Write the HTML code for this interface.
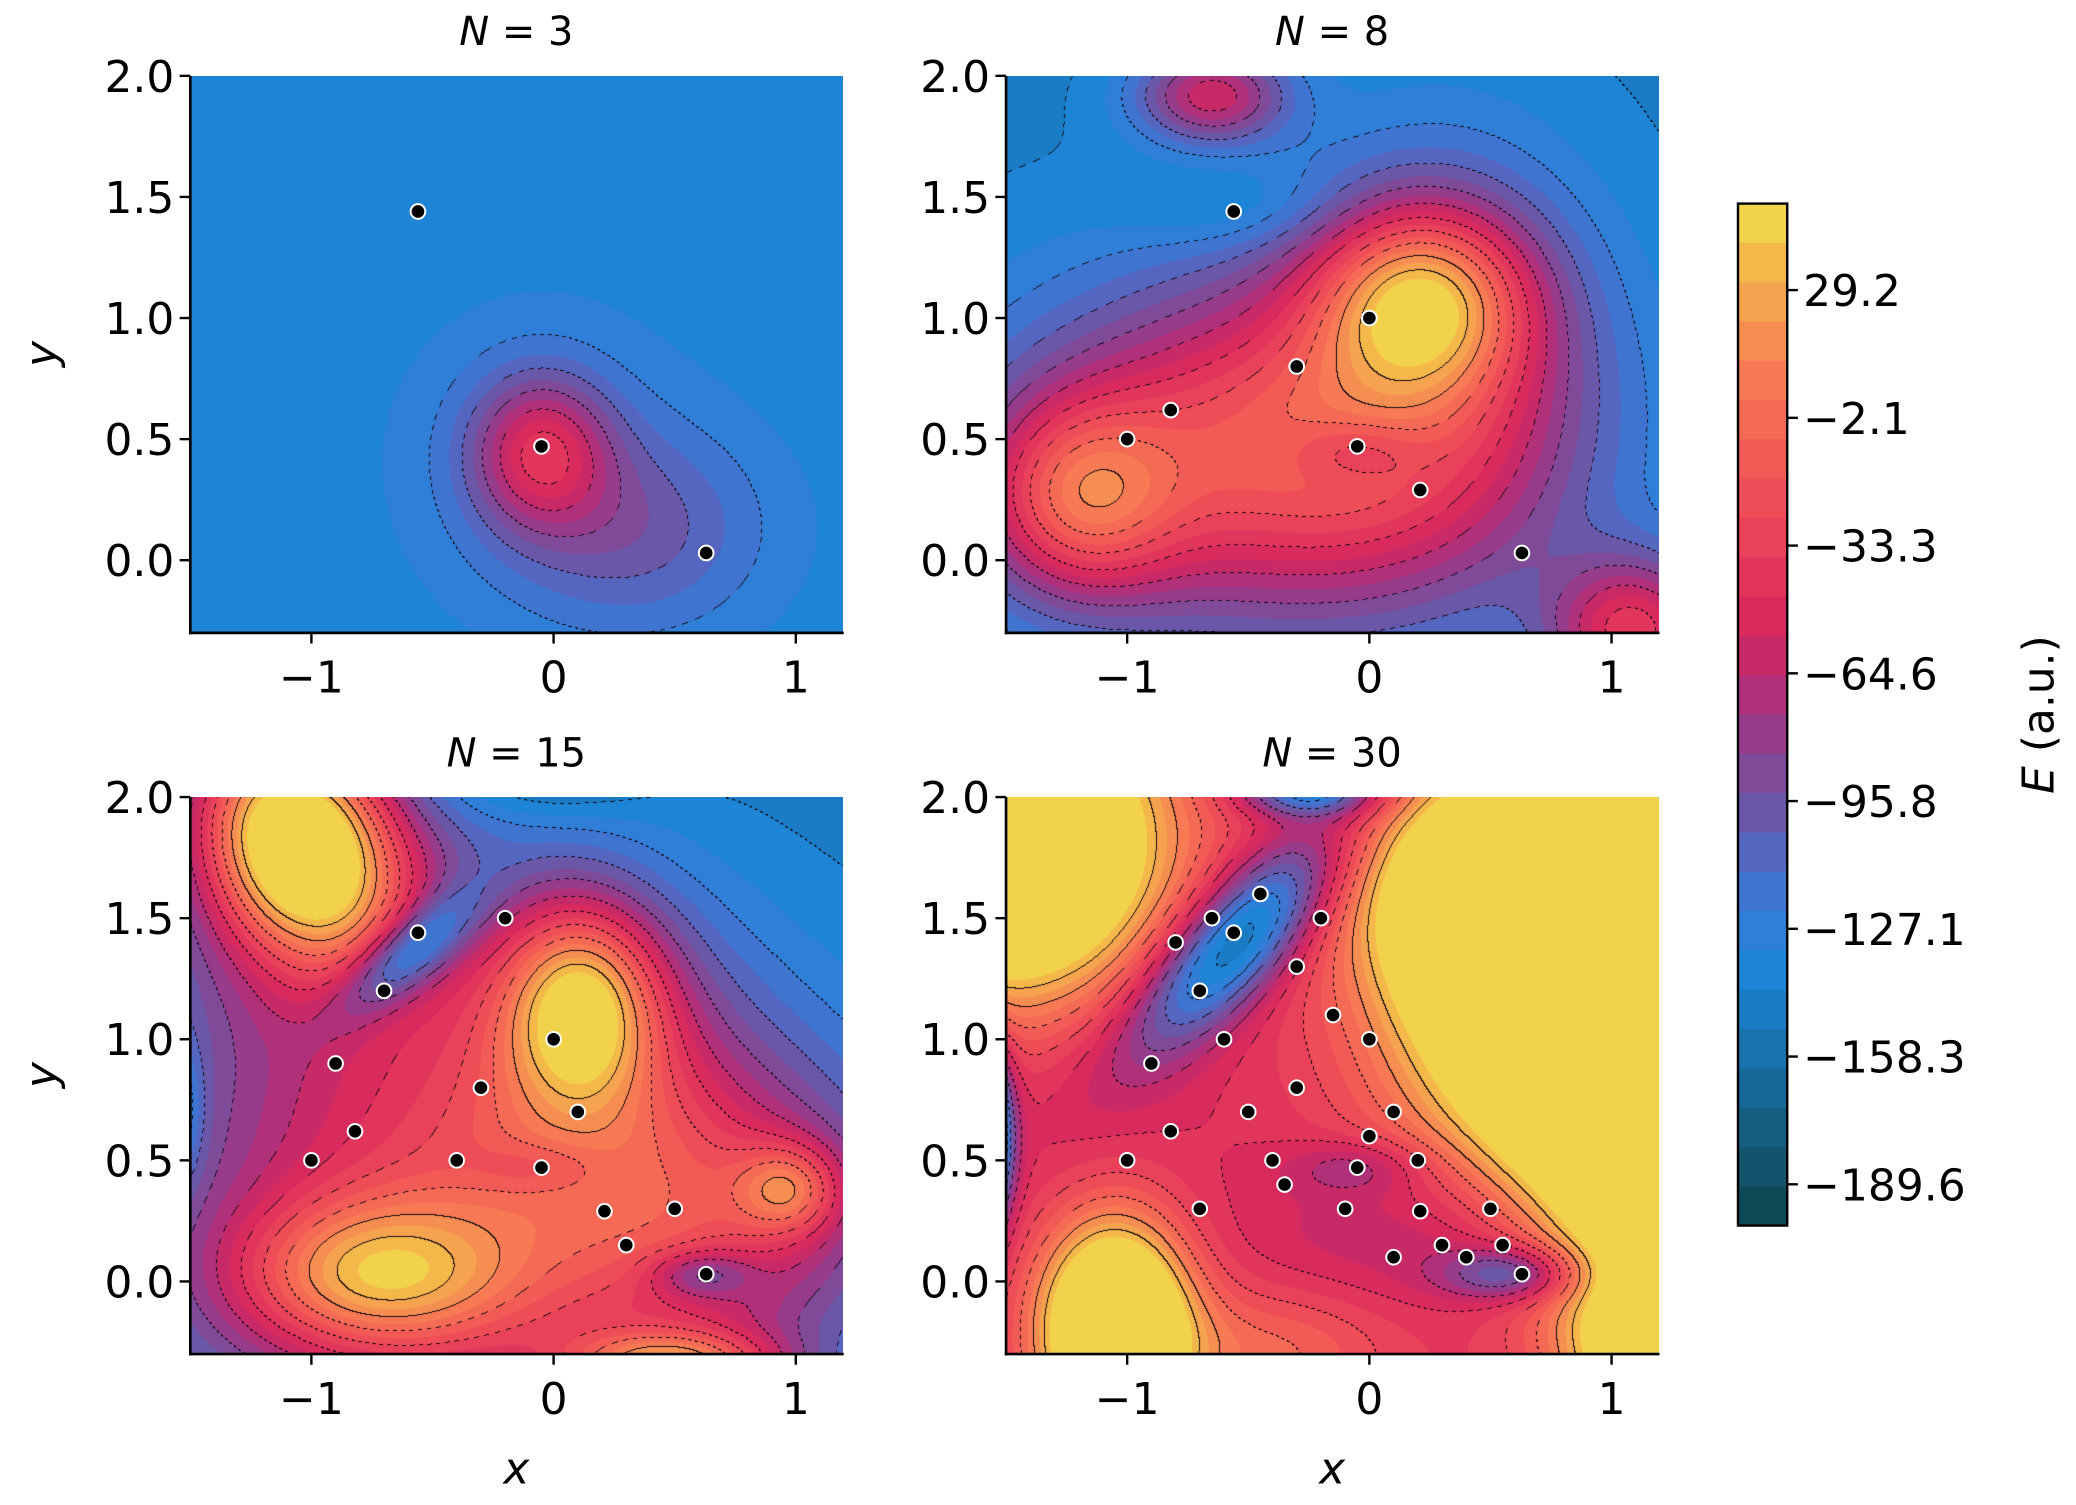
<!DOCTYPE html>
<html><head><meta charset="utf-8"><style>
html,body{margin:0;padding:0;background:#fff;}
#wrap{position:relative;width:2076px;height:1505px;overflow:hidden;background:#fff;}
canvas{position:absolute;}
svg{position:absolute;left:0;top:0;}
</style></head><body>
<div id="wrap">
<canvas id="c0"></canvas><canvas id="c1"></canvas><canvas id="c2"></canvas><canvas id="c3"></canvas>
<svg id="s" width="2076" height="1505" viewBox="0 0 1560 1131" preserveAspectRatio="none" font-family="DejaVu Sans, Liberation Sans, sans-serif"></svg>
</div>
<script>
const S=2076/1560;
const cols=["#0f4a58","#12546c","#145e82","#166898","#1872ac","#1a7cc4","#1e84d6","#2f7fd8","#3f74d0","#5566c0","#6a57a8","#7f4a98","#963c8a","#b0307a","#c82a68","#d92a5e","#e2355c","#e84159","#ee4d57","#f25a56","#f56a55","#f77a55","#f68e52","#f5a34f","#f4b84a","#f2d14b"];
const NB=cols.length, VMIN=-199.7, VMAX=50.4, BW=(VMAX-VMIN)/NB;
function g(x,y,cx,cy,sx,sy,a,r){r=r||0;let dx=x-cx,dy=y-cy;if(r){const c=Math.cos(r),s=Math.sin(r);const u=c*dx+s*dy,v=-s*dx+c*dy;dx=u;dy=v;}return a*Math.exp(-(dx*dx/(2*sx*sx)+dy*dy/(2*sy*sy)));}
const F=[
(x,y)=>-138+g(x,y,-0.05,0.45,0.2,0.22,75)+g(x,y,0.35,0.12,0.38,0.3,35)+g(x,y,-0.05,0.45,0.45,0.45,14),
(x,y)=>-145+g(x,y,0.22,1.08,0.3,0.26,110)+g(x,y,-1.2,0.25,0.28,0.28,90)+g(x,y,-0.4,0.45,0.75,0.5,125)+g(x,y,0.3,0.9,0.45,0.6,55)
 +g(x,y,-0.65,1.92,0.22,0.14,85)+g(x,y,1.1,-0.3,0.25,0.22,100)-g(x,y,-0.05,0.45,0.2,0.1,30)-g(x,y,-0.55,1.45,0.3,0.12,15),
(x,y)=>-148+g(x,y,-0.3,0.3,0.95,0.75,115)+g(x,y,0.7,0.3,0.5,0.4,55)+g(x,y,-1.05,1.82,0.26,0.34,190,0.5)+g(x,y,-1.0,1.6,0.5,0.5,50)
 +g(x,y,0.12,1.15,0.22,0.28,110)+g(x,y,0.1,1.05,0.4,0.45,45)+g(x,y,-0.75,0.02,0.4,0.22,95)+g(x,y,0.98,0.38,0.15,0.13,70)
 +g(x,y,0.5,-0.35,0.3,0.1,110)-g(x,y,0.62,0.03,0.15,0.07,50)-g(x,y,-0.05,0.47,0.2,0.08,20)-g(x,y,-0.6,1.35,0.25,0.1,80,0.7)
 -g(x,y,-1.55,0.7,0.07,0.2,40)-g(x,y,-0.05,2.05,0.3,0.1,20),
(x,y)=>-45+g(x,y,0.8,1.3,0.5,0.6,190)+g(x,y,0.5,1.6,0.35,0.3,90)+g(x,y,1.2,0.6,0.35,0.5,150)+g(x,y,1.3,1.9,0.3,0.3,80)+g(x,y,-1.5,1.8,0.45,0.45,200)+g(x,y,-1.05,-0.2,0.22,0.32,180)+g(x,y,1.3,-0.3,0.3,0.25,160)
 -g(x,y,-0.55,1.4,0.15,0.42,120,-0.75)-g(x,y,-1.58,0.6,0.07,0.25,170)-g(x,y,0.6,0.03,0.2,0.08,70)-g(x,y,0.3,0.2,0.5,0.22,30)-g(x,y,-0.05,0.47,0.2,0.08,30)
 -g(x,y,-0.25,2.02,0.2,0.07,90)+g(x,y,-0.4,-0.3,0.35,0.2,40)-g(x,y,-1.2,0.9,0.4,0.4,10)
];
const P=[[143,57],[756,57],[143,599],[756,599]];
for(let k=0;k<4;k++){
 const cv=document.getElementById('c'+k);const W=Math.round(491*S),H=Math.round(418.6*S);
 cv.width=W;cv.height=H;cv.style.left=(P[k][0]*S)+'px';cv.style.top=(P[k][1]*S)+'px';
 const ctx=cv.getContext('2d');const im=ctx.createImageData(W,H);
 const B=new Int16Array(W*H),V=new Float32Array(W*H);
 for(let j=0;j<H;j++)for(let i=0;i<W;i++){const x=-1.5+(i+0.5)/W*2.7,y=2.0-(j+0.5)/H*2.3;const v=F[k](x,y);V[j*W+i]=v;let b=Math.floor((v-VMIN)/BW);b=Math.max(0,Math.min(NB-1,b));B[j*W+i]=b;}
 const rgb=cols.map(c=>[parseInt(c.substr(1,2),16),parseInt(c.substr(3,2),16),parseInt(c.substr(5,2),16)]);
 for(let j=0;j<H;j++)for(let i=0;i<W;i++){const id=j*W+i;let c=rgb[B[id]];let L=B[id]>>1;
  let line=false;if(i+1<W&&(B[id+1]>>1)!=L)line=true;if(j+1<H&&(B[id+W]>>1)!=L)line=true;
  if(line&&V[id]<0&&(((i+j)>>2)&1))line=false;
  const o=id*4;if(line){im.data[o]=20;im.data[o+1]=10;im.data[o+2]=20;}else{im.data[o]=c[0];im.data[o+1]=c[1];im.data[o+2]=c[2];}im.data[o+3]=255;}
 ctx.putImageData(im,0,0);
}
const pts3=[[-0.56,1.44],[-0.05,0.47],[0.63,0.03]];
const pts8=pts3.concat([[-1,0.5],[-0.82,0.62],[-0.3,0.8],[0,1],[0.21,0.29]]);
const pts15=[[-0.56,1.44],[-0.2,1.5],[-0.7,1.2],[0,1],[-0.9,0.9],[-0.3,0.8],[0.1,0.7],[-0.82,0.62],[-1,0.5],[-0.4,0.5],[-0.05,0.47],[0.21,0.29],[0.5,0.3],[0.3,0.15],[0.63,0.03]];
const pts30=[[-0.45,1.6],[-0.65,1.5],[-0.2,1.5],[-0.56,1.44],[-0.8,1.4],[-0.3,1.3],[-0.7,1.2],[-0.15,1.1],[-0.6,1.0],[0,1],[-0.9,0.9],[-0.3,0.8],[-0.5,0.7],[0.1,0.7],[-0.82,0.62],[0,0.6],[-1,0.5],[-0.4,0.5],[0.2,0.5],[-0.05,0.47],[-0.35,0.4],[-0.7,0.3],[-0.1,0.3],[0.21,0.29],[0.5,0.3],[0.3,0.15],[0.55,0.15],[0.1,0.1],[0.4,0.1],[0.63,0.03]];
const PTS=[pts3,pts8,pts15,pts30];const titles=["3","8","15","30"];
let s='';
for(let k=0;k<4;k++){
 const [x0,y0]=P[k];const X=v=>x0+(v+1.5)*182,Y=v=>y0+(2.0-v)*182;
 for(const p of PTS[k])s+=`<circle cx="${X(p[0])}" cy="${Y(p[1])}" r="5.5" fill="#000" stroke="#fff" stroke-width="1.5"/>`;
 const yb=y0+418.6;
 s+=`<line x1="${x0}" y1="${y0}" x2="${x0}" y2="${yb+1}" stroke="#000" stroke-width="2"/><line x1="${x0-1}" y1="${yb}" x2="${x0+491}" y2="${yb}" stroke="#000" stroke-width="2"/>`;
 for(const t of [-1,0,1]){s+=`<line x1="${X(t)}" y1="${yb}" x2="${X(t)}" y2="${yb+8}" stroke="#000" stroke-width="1.8"/><text x="${X(t)}" y="${yb+45}" font-size="33" text-anchor="middle">${t<0?'−1':t}</text>`;}
 for(const t of [0,0.5,1,1.5,2]){s+=`<line x1="${x0-8}" y1="${Y(t)}" x2="${x0}" y2="${Y(t)}" stroke="#000" stroke-width="1.8"/><text x="${x0-12}" y="${Y(t)+12}" font-size="33" text-anchor="end">${t.toFixed(1)}</text>`;}
 s+=`<text x="${x0+245}" y="${y0-23}" font-size="30" text-anchor="middle"><tspan font-style="italic">N</tspan> = ${titles[k]}</text>`;
 if(k%2==0)s+=`<text transform="translate(42,${y0+209}) rotate(-90)" font-size="33" font-style="italic" text-anchor="middle">y</text>`;
 if(k>=2)s+=`<text x="${x0+245}" y="1115" font-size="33" font-style="italic" text-anchor="middle">x</text>`;
}
const cx=1306,cw=37,ct=153,cb=921,bh=(cb-ct)/NB;
for(let i=0;i<NB;i++)s+=`<rect x="${cx}" y="${ct+i*bh}" width="${cw}" height="${bh+0.6}" fill="${cols[NB-1-i]}"/>`;
s+=`<rect x="${cx}" y="${ct}" width="${cw}" height="${cb-ct}" fill="none" stroke="#000" stroke-width="1.8"/>`;
const ticks=[["29.2",218],["−2.1",314],["−33.3",410],["−64.6",506],["−95.8",602],["−127.1",698],["−158.3",794],["−189.6",890]];
for(const [l,y] of ticks)s+=`<line x1="${cx+cw}" y1="${y}" x2="${cx+cw+8}" y2="${y}" stroke="#000" stroke-width="1.8"/><text x="${cx+cw+12}" y="${y+12}" font-size="33">${l}</text>`;
s+=`<text transform="translate(1543,537) rotate(-90)" font-size="33" text-anchor="middle"><tspan font-style="italic">E</tspan> (a.u.)</text>`;
document.getElementById('s').innerHTML=s;
</script>
</body></html>
